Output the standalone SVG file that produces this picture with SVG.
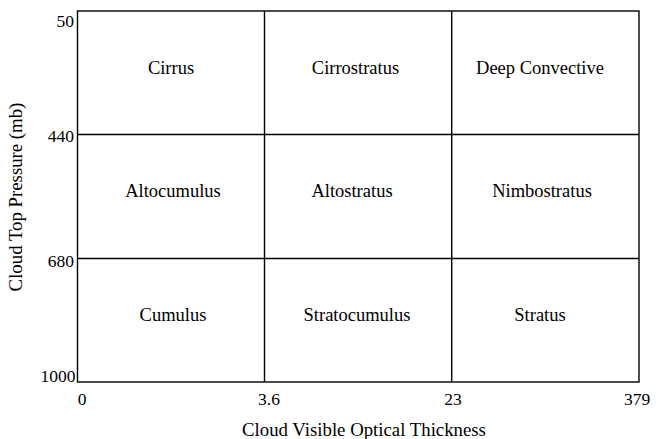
<svg xmlns="http://www.w3.org/2000/svg" width="661" height="439" viewBox="0 0 661 439">
<style>
text{font-family:"Liberation Serif","Times New Roman",serif;fill:#000}
.c{font-size:18.5px;text-anchor:middle}
.t{font-size:17.5px}
.a{font-size:18.8px;text-anchor:middle}
.ln{stroke:#000;stroke-width:1.4;fill:none}
</style>
<rect width="661" height="439" fill="#fff"/>
<g id="connectors">
<rect class="ln" x="77.5" y="11" width="561.5" height="371"/>
<line class="ln" x1="264.5" y1="11" x2="264.5" y2="382"/>
<line class="ln" x1="451.7" y1="11" x2="451.7" y2="382"/>
<line class="ln" x1="77.5" y1="134.5" x2="639" y2="134.5"/>
<line class="ln" x1="77.5" y1="258.5" x2="639" y2="258.5"/>
</g>
<g id="y-ticks" class="t" text-anchor="end">
<text x="74" y="27">50</text>
<text x="74" y="141.5">440</text>
<text x="74" y="266.5">680</text>
<text x="75.5" y="382">1000</text>
</g>
<g id="x-ticks" class="t" text-anchor="middle">
<text x="82" y="405">0</text>
<text x="269" y="405">3.6</text>
<text x="453" y="405">23</text>
<text x="637" y="405">379</text>
</g>
<g id="cirrus"><text class="c" x="171" y="73.5">Cirrus</text></g>
<g id="cirrostratus"><text class="c" x="355.5" y="73.5">Cirrostratus</text></g>
<g id="deep-convective"><text class="c" x="540" y="73.5">Deep Convective</text></g>
<g id="altocumulus"><text class="c" x="173" y="197">Altocumulus</text></g>
<g id="altostratus"><text class="c" x="352" y="197">Altostratus</text></g>
<g id="nimbostratus"><text class="c" x="542" y="197">Nimbostratus</text></g>
<g id="cumulus"><text class="c" x="173" y="321">Cumulus</text></g>
<g id="stratocumulus"><text class="c" x="357" y="321">Stratocumulus</text></g>
<g id="stratus"><text class="c" x="540" y="321">Stratus</text></g>
<g id="axis-titles">
<text class="a" x="364" y="436">Cloud Visible Optical Thickness</text>
<text class="a" transform="translate(22,197) rotate(-90)">Cloud Top Pressure (mb)</text>
</g>
</svg>
